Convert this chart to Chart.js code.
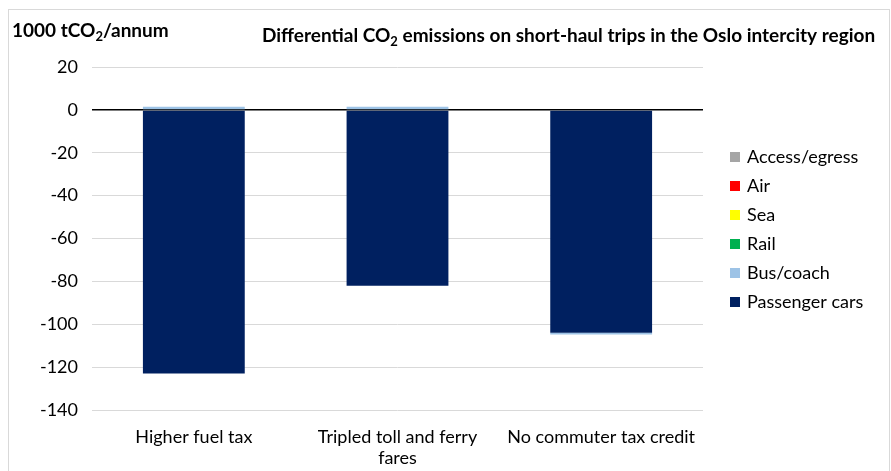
<!DOCTYPE html>
<html lang="en">
<head>
<meta charset="UTF-8">
<title>CO2 emissions</title>
<script src="https://cdn.jsdelivr.net/npm/chart.js"></script>
<style>
  body { margin: 0; background: #fff; }
  #frame { position: absolute; left: 8px; top: 9px; width: 880px; height: 470px; border: 1px solid #d9d9d9; }
  #chart { position: absolute; left: 0; top: 0; }
</style>
</head>
<body>
<div id="frame"></div>
<canvas id="chart" width="891" height="471"></canvas>
<script>
  // scenarios and emission changes (1000 tCO2 per year)
  var scenarios = ['Higher fuel tax', ['Tripled toll and ferry', 'fares'], 'No commuter tax credit']
  var passengerCars = [-123, -82, -104]
  var busCoach = [1.5, 1.5, -0.8]
  var rail = [0, 0, 0]
  var sea = [0, 0, 0]
  var air = [0, 0, 0]
  var accessEgress = [0, 0, 0]
  var yTicks = [20, 0, -20, -40, -60, -80, -100, -120, -140]

  var FONT = 'Lato, "Open Sans", sans-serif'

  // title and unit label with subscript 2, plus a hand placed legend
  var textPlugin = {
    id: 'texts',
    afterDraw(chart) {
      var ctx = chart.ctx
      function sub(parts, x, y) {
        ctx.save()
        ctx.fillStyle = '#000'
        ctx.textBaseline = 'alphabetic'
        ctx.textAlign = 'left'
        parts.forEach(function (p) {
          ctx.font = p.s ? 'bold 13px ' + FONT : 'bold 19px ' + FONT
          ctx.fillText(p.t, x, y + (p.s ? 4 : 0))
          x += ctx.measureText(p.t).width
        })
        ctx.restore()
      }
      sub([{t: '1000 tCO'}, {t: '2', s: 1}, {t: '/annum'}], 12, 37)
      sub([{t: 'Differential CO'}, {t: '2', s: 1}, {t: ' emissions on short-haul trips in the Oslo intercity region'}], 262, 42)

      // legend, top series first
      ctx.save()
      ctx.font = '18px ' + FONT
      ctx.textBaseline = 'middle'
      var ds = chart.data.datasets.slice().reverse()
      ds.forEach(function (d, i) {
        var y = 157 + i * 29
        ctx.fillStyle = d.backgroundColor
        ctx.fillRect(730, y - 5, 10, 10)
        ctx.fillStyle = '#000'
        ctx.fillText(d.label, 747, y)
      })
      ctx.restore()
    }
  }

  var canvas = document.getElementById('chart')
  var chart = new Chart(canvas, {
    type: 'bar',
    data: {
      labels: scenarios,
      datasets: [
        { label: 'Passenger cars', data: passengerCars, backgroundColor: '#002060' },
        { label: 'Bus/coach', data: busCoach, backgroundColor: '#9dc3e6' },
        { label: 'Rail', data: rail, backgroundColor: '#00b050' },
        { label: 'Sea', data: sea, backgroundColor: '#ffff00' },
        { label: 'Air', data: air, backgroundColor: '#ff0000' },
        { label: 'Access/egress', data: accessEgress, backgroundColor: '#a5a5a5' }
      ]
    },
    options: {
      responsive: false,
      animation: false,
      layout: { padding: { top: 67, right: 188, left: 0, bottom: 0 } },
      datasets: { bar: { categoryPercentage: 1, barPercentage: 0.5 } },
      plugins: { legend: { display: false }, tooltip: { enabled: false } },
      scales: {
        x: {
          stacked: true,
          grid: { display: false },
          border: { display: false },
          ticks: { color: '#000', font: { family: FONT, size: 18 }, maxRotation: 0, autoSkip: false, padding: 8, lineHeight: 1.25 },
          afterFit(s) { s.height = 61 }
        },
        y: {
          stacked: true,
          min: -140,
          max: 20,
          afterBuildTicks(s) { s.ticks = yTicks.map(function (v) { return { value: v } }) },
          grid: {
            color: function (c) { return c.tick && c.tick.value === 0 ? '#000' : '#d9d9d9' },
            lineWidth: function (c) { return c.tick && c.tick.value === 0 ? 1.5 : 1 },
            drawTicks: false
          },
          border: { display: false },
          ticks: { color: '#000', font: { family: FONT, size: 18 }, padding: 14 },
          afterFit(s) { s.width = 92 }
        }
      }
    },
    plugins: [textPlugin]
  })
</script>
</body>
</html>
